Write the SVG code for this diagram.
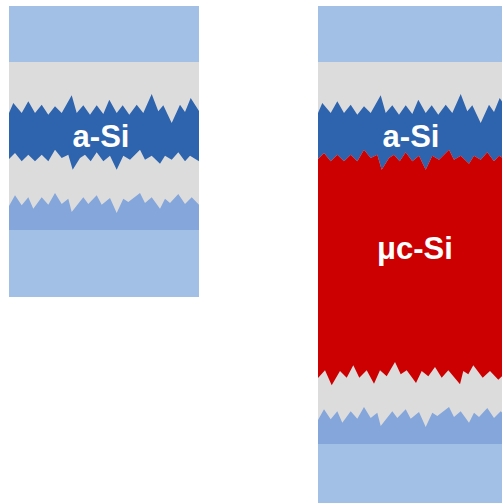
<svg xmlns="http://www.w3.org/2000/svg" xmlns:xlink="http://www.w3.org/1999/xlink" width="502" height="503" viewBox="0 0 502 503">
  <style>
    .glass { fill: #a2c0e6; }
    .tco { fill: #dcdcdc; }
    .asi { fill: #2e64ae; }
    .ucsi { fill: #cc0000; }
    .back { fill: #84a6da; }
    .label { fill: #ffffff; font-family: "Liberation Sans", Arial, sans-serif; font-weight: bold; font-size: 31px; text-anchor: middle; }
  </style>
  <defs>
    <!-- amorphous silicon absorber: rough top and bottom interfaces -->
    <polygon id="asi-layer" class="asi" points="9,113 13.3,103 21.7,113 28.3,101.3 35,113 41.7,104.7 48.3,114.7 55,106.3 61.7,113 71.7,95.3 76.7,113 83.3,105.3 90,114.7 96.7,105.3 103.3,114 109.3,99.7 116.7,113 122.7,105.3 129.3,114.7 136.7,104.7 143.3,113 151.7,94 158.3,111.3 163.3,105.3 171.7,123 180,104.7 185,112 190.7,98 199,111 199,161.3 190,155.7 185,161.3 178.3,152.3 171.7,159.7 165,155.7 160,163.7 151.7,155.7 145,159.7 140,149.7 130,159.7 123.3,155.7 116.7,169.7 110,155.7 103.3,161.3 96.7,152.3 90.7,161.3 85,154.7 80,158 72.7,169.7 68.3,154.7 61.7,158 55,149.7 48.3,161.3 41.7,154.7 35,161.3 28.3,154.7 21.7,161.3 15,153 9,159"/>
    <!-- back contact layer with rough top interface -->
    <polygon id="back-layer" class="back" points="9,206 15,195.3 21.7,205.3 28.3,197.3 33.3,208.7 41.7,197.3 48.3,204.7 55,193 61.7,204 68.3,198.7 71.7,212 83.3,197.3 88.3,204 96.7,195.3 101.7,204.7 110,198 116.7,213 123.3,198.7 128.3,202 140,193 145,203 151.7,197.3 160,208.7 165,198.7 170,203 178.3,194 185,204 191.7,197.3 199,204.7 199,230 9,230"/>
  </defs>

  <!-- single junction cell -->
  <g id="cell-single">
    <rect class="glass" x="9" y="6" width="190" height="291"/>
    <rect class="tco" x="9" y="62" width="190" height="168"/>
    <use xlink:href="#asi-layer"/>
    <use xlink:href="#back-layer"/>
    <text class="label" x="101" y="147">a-Si</text>
  </g>

  <!-- tandem cell -->
  <g id="cell-tandem">
    <rect class="glass" x="318" y="6" width="184" height="497"/>
    <rect class="tco" x="318" y="62" width="184" height="382"/>
    <g transform="translate(309 0)">
      <use xlink:href="#asi-layer"/>
      <polygon class="ucsi" points="9,159 15,153 21.7,161.3 28.3,154.7 35,161.3 41.7,154.7 48.3,161.3 55,149.7 61.7,158 68.3,154.7 72.7,169.7 80,158 85,154.7 90.7,161.3 96.7,152.3 103.3,161.3 110,155.7 116.7,169.7 123.3,155.7 130,159.7 140,149.7 145,159.7 151.7,155.7 160,163.7 165,155.7 171.7,159.7 178.3,152.3 185,161.3 190,155.7 199,161.3 199,378 193,376.3 189.3,379.7 181,371 173.7,377.7 164.3,365.3 159.3,374.3 154.3,371 151,384.3 139.3,370.3 132.7,377.7 126,367 119.3,376.3 112.7,371 107,383 97.7,370.3 91.7,374.3 86,362 77.7,376.3 71,370.3 65,383.7 57.7,370.3 50.3,377.7 44.3,365.3 37.7,377.7 31,371 22.7,385.3 16,370.3 9,378"/>
    </g>
    <use xlink:href="#back-layer" transform="translate(309 214)"/>
    <text class="label" x="411" y="147">a-Si</text>
    <text class="label" x="415" y="259">μc-Si</text>
  </g>
</svg>
